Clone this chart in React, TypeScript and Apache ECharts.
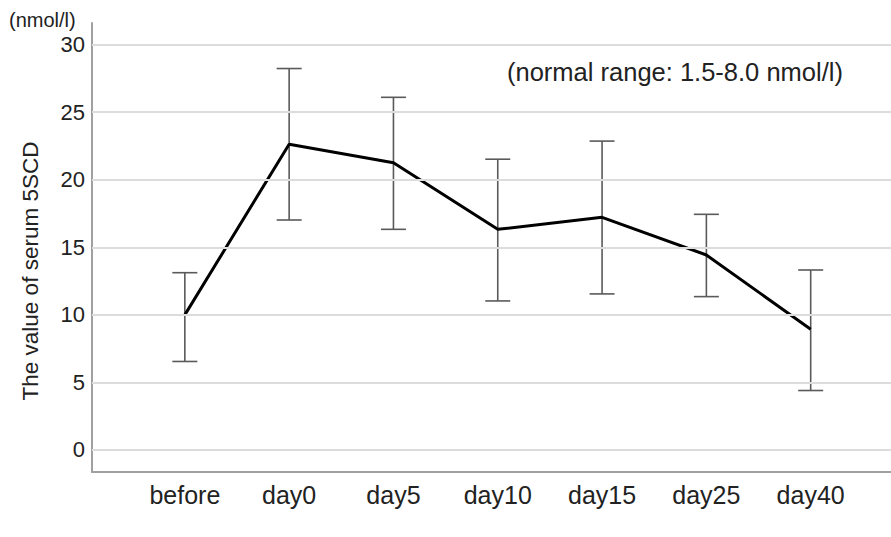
import React, { useEffect, useRef } from "react";
import * as echarts from "echarts";

const categories = ["before", "day0", "day5", "day10", "day15", "day25", "day40"];
const means = [10.0, 22.63, 21.25, 16.33, 17.22, 14.43, 8.94];
const lows = [6.55, 17.02, 16.33, 11.03, 11.55, 11.35, 4.4];
const highs = [13.12, 28.23, 26.1, 21.52, 22.86, 17.44, 13.32];
const yTicks = [0, 5, 10, 15, 20, 25, 30];
const yName = "The value of serum 5SCD";
const unitText = "(nmol/l)";
const noteText = "(normal range: 1.5-8.0 nmol/l)";

const FONT = "'Liberation Sans', Arial, sans-serif";

export default function App() {
  const ref = useRef<HTMLDivElement>(null);
  useEffect(() => {
    document.body.style.margin = "0";
    if (!ref.current) return;
    const chart = echarts.init(ref.current, null, { renderer: "svg" });
    const points = means.map((m, i) => [i, m]);
    const errData = categories.map((_, i) => [i, lows[i], highs[i]]);
    chart.setOption({
      animation: false,
      backgroundColor: "#fff",
      textStyle: { fontFamily: FONT },
      grid: { left: 92, right: 0, top: 23, bottom: 65, containLabel: false },
      xAxis: {
        type: "value",
        min: -0.89,
        max: 6.77,
        axisLine: { show: true, onZero: false, lineStyle: { color: "#a0a0a0", width: 2 } },
        axisTick: { show: false },
        splitLine: { show: false },
        axisLabel: {
          customValues: categories.map((_, i) => i),
          formatter: (v: number) => categories[Math.round(v)] ?? "",
          color: "#222",
          fontSize: 25,
          fontFamily: FONT,
          margin: 10,
        },
      },
      yAxis: {
        type: "value",
        min: -1.63,
        max: 31.6,
        axisLine: { show: true, onZero: false, lineStyle: { color: "#a0a0a0", width: 2 } },
        axisTick: { show: false },
        splitLine: { show: false },
        axisLabel: {
          customValues: yTicks,
          color: "#222",
          fontSize: 22,
          fontFamily: FONT,
          margin: 7,
          padding: [8, 0, 0, 0],
        },
      },
      graphic: [
        {
          type: "text",
          x: 9,
          y: 20,
          style: { text: unitText, fontSize: 20, fontFamily: FONT, fill: "#222", verticalAlign: "middle", align: "left" },
        },
        {
          type: "text",
          x: 507,
          y: 72,
          style: { text: noteText, fontSize: 25.5, fontFamily: FONT, fill: "#222", verticalAlign: "middle", align: "left" },
        },
        {
          type: "text",
          x: 30,
          y: 271,
          rotation: Math.PI / 2,
          style: { text: yName, fontSize: 22.5, fontFamily: FONT, fill: "#222", verticalAlign: "middle", align: "center" },
        },
      ],
      series: [
        {
          type: "line",
          data: points,
          z: 1,
          showSymbol: false,
          silent: true,
          lineStyle: { opacity: 0 },
          markLine: {
            silent: true,
            symbol: ["none", "none"],
            label: { show: false },
            lineStyle: { color: "#dcdcdc", width: 2, type: "solid" },
            data: yTicks.map((v) => ({ yAxis: v })),
          },
        },
        {
          type: "custom",
          z: 2,
          data: errData,
          renderItem: (params: any, api: any) => {
            const x = api.value(0);
            const lo = api.coord([x, api.value(1)]);
            const hi = api.coord([x, api.value(2)]);
            const hw = 12.5;
            const style = { stroke: "#5a5a5a", lineWidth: 1.6 };
            return {
              type: "group",
              children: [
                { type: "line", shape: { x1: lo[0], y1: lo[1], x2: hi[0], y2: hi[1] }, style },
                { type: "line", shape: { x1: lo[0] - hw, y1: lo[1], x2: lo[0] + hw, y2: lo[1] }, style },
                { type: "line", shape: { x1: hi[0] - hw, y1: hi[1], x2: hi[0] + hw, y2: hi[1] }, style },
              ],
            };
          },
        },
        {
          type: "line",
          data: points,
          z: 3,
          showSymbol: false,
          symbol: "none",
          lineStyle: { color: "#000", width: 3 },
        },
      ],
    });
    return () => chart.dispose();
  }, []);
  return <div ref={ref} style={{ width: 891, height: 537 }} />;
}
